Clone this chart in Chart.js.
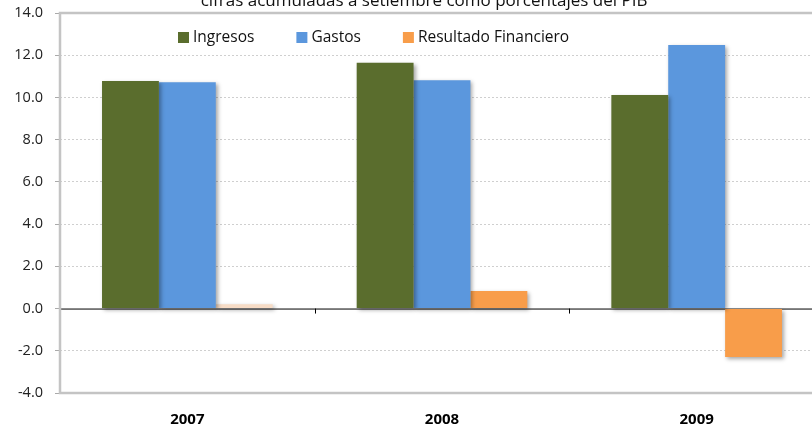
<!DOCTYPE html>
<html>
<head>
<meta charset="utf-8">
<script src="https://cdn.jsdelivr.net/npm/chart.js@4.4.1/dist/chart.umd.min.js"></script>
<style>
    html, body { margin: 0; padding: 0; background: #fff; overflow: hidden; }
    #wrap { width: 824px; height: 427px; }
</style>
</head>
<body>
<div id="wrap"><canvas id="grafico"></canvas></div>
<script>
const anos = ['2007', '2008', '2009'];
const ingresos = [10.78, 11.64, 10.12];
const gastos = [10.72, 10.82, 12.48];
const resultado = [0.2, 0.83, -2.3];
const titulo = 'cifras acumuladas a setiembre como porcentajes del PIB';

const fonteTexto = '"Open Sans", "Liberation Sans", sans-serif';

// titulo cortado, legenda dentro da area, borda cinza, linha do zero
const extras = {
    id: 'extras',
    beforeDatasetsDraw(chart) {
        const { ctx, chartArea: a, scales } = chart;
        const y0 = scales.y.getPixelForValue(0);
        ctx.save();
        ctx.strokeStyle = '#000';
        ctx.lineWidth = 1;
        ctx.beginPath();
        ctx.moveTo(a.left, y0 + 0.5);
        ctx.lineTo(a.right, y0 + 0.5);
        for (let i = 0; i <= anos.length; i++) {
            const x = Math.round(a.left + (a.right - a.left) * i / anos.length) + 0.5;
            ctx.moveTo(x, y0);
            ctx.lineTo(x, y0 + 5);
        }
        ctx.stroke();
        ctx.restore();

        ctx.save();
        ctx.shadowColor = 'rgba(0,0,0,0.35)';
        ctx.shadowBlur = 4;
        ctx.shadowOffsetX = 2;
        ctx.shadowOffsetY = 2;
    },
    afterDatasetsDraw(chart) {
        chart.ctx.restore();
    },
    afterDraw(chart) {
        const { ctx, chartArea: a } = chart;
        ctx.save();
        ctx.strokeStyle = '#c4c4c4';
        ctx.lineWidth = 2.5;
        ctx.strokeRect(a.left, a.top, a.right - a.left, a.bottom - a.top);

        ctx.fillStyle = '#111';
        ctx.font = '17px ' + fonteTexto;
        ctx.textAlign = 'center';
        ctx.textBaseline = 'alphabetic';
        ctx.fillText(titulo, 424, 6);

        let x = 178;
        ctx.font = '15.5px ' + fonteTexto;
        ctx.textAlign = 'left';
        ctx.textBaseline = 'middle';
        chart.data.datasets.forEach(ds => {
            ctx.fillStyle = ds.corLegenda;
            ctx.fillRect(x, 32, 11, 11);
            ctx.fillStyle = '#111';
            ctx.fillText(ds.label, x + 15, 38);
            x += 15 + ctx.measureText(ds.label).width + 42;
        });
        ctx.restore();
    }
};

new Chart(document.getElementById('grafico'), {
    type: 'bar',
    data: {
        labels: anos,
        datasets: [
            { label: 'Ingresos', data: ingresos, backgroundColor: '#5a6d2d', corLegenda: '#5a6d2d' },
            { label: 'Gastos', data: gastos, backgroundColor: '#5b97dd', corLegenda: '#5b97dd' },
            { label: 'Resultado Financiero', data: resultado,
              backgroundColor: ['#f7dcc6', '#f89d4a', '#f89d4a'], corLegenda: '#f89d4a' }
        ]
    },
    options: {
        responsive: true,
        maintainAspectRatio: false,
        animation: false,
        layout: { padding: { top: 13, right: 0, left: 0, bottom: 0 } },
        categoryPercentage: 0.67,
        barPercentage: 1.0,
        plugins: {
            legend: { display: false },
            tooltip: { enabled: false }
        },
        scales: {
            x: {
                grid: { display: false, drawTicks: false },
                border: { display: false },
                ticks: {
                    padding: 18,
                    color: '#000',
                    font: { family: fonteTexto, size: 15, weight: 'bold' }
                },
                afterFit(scale) {
                    scale.height = 34;
                    scale.paddingLeft = 0;
                    scale.paddingRight = 0;
                }
            },
            y: {
                min: -4,
                max: 14,
                ticks: {
                    stepSize: 2,
                    padding: 12,
                    color: '#222',
                    font: { family: fonteTexto, size: 14.5 },
                    callback: v => v.toFixed(1)
                },
                grid: {
                    color: ctx => (ctx.tick && (ctx.tick.value === 0 || ctx.tick.value === 14 || ctx.tick.value === -4)) ? 'rgba(0,0,0,0)' : '#cfcfcf',
                    tickColor: '#aaa',
                    tickLength: 5,
                    tickBorderDash: []
                },
                border: { display: false, dash: [2, 2] },
                afterFit(scale) {
                    scale.width = 60;
                    scale.paddingTop = 0;
                    scale.paddingBottom = 0;
                }
            }
        }
    },
    plugins: [extras]
});
</script>
</body>
</html>
